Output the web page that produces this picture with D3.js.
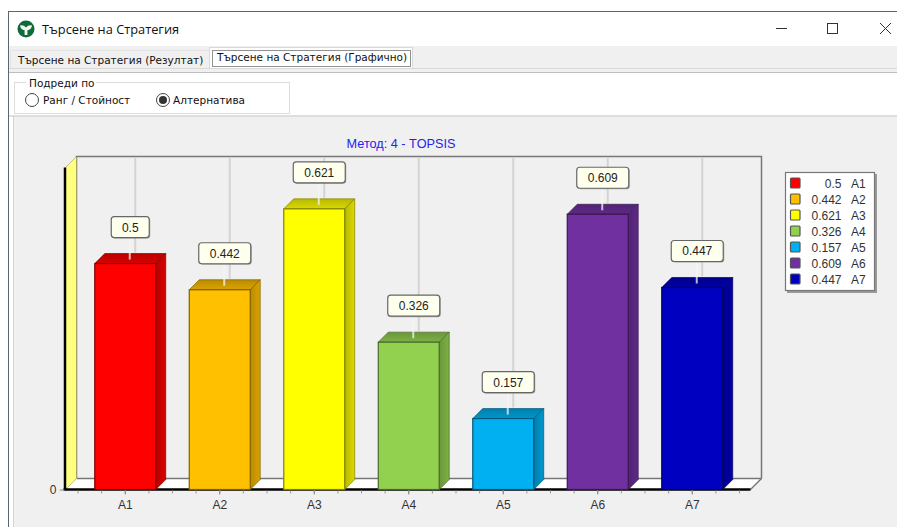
<!DOCTYPE html>
<html>
<head>
<meta charset="utf-8">
<script src="https://cdn.jsdelivr.net/npm/d3@7"></script>
<style>
html,body{margin:0;padding:0;background:#fff;overflow:hidden}
svg{display:block}
text{font-family:"Liberation Sans",Arial,sans-serif}
.ui{font-family:"DejaVu Sans",sans-serif;font-size:10.5px;fill:#111}
</style>
</head>
<body>
<svg id="chart" width="897" height="527"></svg>
<script>
// Strategy search results, method 4 - TOPSIS
const categories = ["A1","A2","A3","A4","A5","A6","A7"];
const values = [0.5,0.442,0.621,0.326,0.157,0.609,0.447];
const valueLabels = ["0.5","0.442","0.621","0.326","0.157","0.609","0.447"];
const fills = ["#ff0000","#ffc000","#ffff00","#92d050","#00b0f0","#7030a0","#0000c0"];
const yTicks = [0];
const chartTitle = "Метод: 4 - TOPSIS";
const windowTitle = "Търсене на Стратегия";
const tabLabels = ["Търсене на Стратегия (Резултат)","Търсене на Стратегия (Графично)"];
const groupTitle = "Подреди по";
const radioLabels = ["Ранг / Стойност","Алтернатива"];

const svg = d3.select("#chart");
const defs = svg.append("defs");

const rect = (g,x,y,w,h,fill,stroke) => g.append("rect").attr("x",x).attr("y",y)
  .attr("width",w).attr("height",h).attr("fill",fill).attr("stroke",stroke||"none");
const line = (g,x1,y1,x2,y2,stroke,width) => g.append("line").attr("x1",x1).attr("y1",y1)
  .attr("x2",x2).attr("y2",y2).attr("stroke",stroke).attr("stroke-width",width||1);

/* ---------- dialog window ---------- */
const win = svg.append("g");
rect(win,8,12,889,515,"#ffffff");
rect(win,14,117,883,410,"#f0f0f0");
line(win,13.5,116,13.5,527,"#d4d4d4");
line(win,8,11.5,897,11.5,"#5b6670");
line(win,8.5,12,8.5,527,"#5b6670");
// window icon
win.append("circle").attr("cx",26).attr("cy",29).attr("r",8.5).attr("fill","#0f6b3a");
win.append("path").attr("d","M20 25.5Q23.5 24.5 26 27.5Q28.5 24.5 32 25.5Q31.5 29.5 27.4 30.2L27.4 35L24.6 35L24.6 30.2Q20.5 29.5 20 25.5Z").attr("fill","#f4f7f2");
win.append("text").attr("x",42).attr("y",34).attr("font-size",12.8)
  .style("font-family","'Open Sans',sans-serif").attr("fill","#111").text(windowTitle);
// caption buttons
line(win,776,28.5,787,28.5,"#333");
rect(win,827.5,23.5,10,10,"none","#333");
line(win,880,23,891,34,"#333");
line(win,891,23,880,34,"#333");

// tab strip
rect(win,9,46,888,26,"#f0f0f0");
line(win,9,68.5,897,68.5,"#d9d9d9");
line(win,10,50.5,209,50.5,"#e4e4e4");
line(win,10.5,51,10.5,68,"#e4e4e4");
rect(win,209.5,47.5,203,21,"#ffffff","#d9d9d9");
rect(win,212.5,50.5,198,16,"none","#222").attr("stroke-dasharray","1 1");
win.append("text").attr("class","ui").attr("x",18).attr("y",64).text(tabLabels[0]);
win.append("text").attr("class","ui").attr("x",217).attr("y",61).text(tabLabels[1]);

// sort options panel
rect(win,9,73,888,42,"#ffffff");
line(win,9,72.5,897,72.5,"#bdbdbd");
line(win,9,116,897,116,"#bdbdbd");
rect(win,14.5,82.5,275,31,"#ffffff","#dcdcdc");
rect(win,26,78,70,10,"#ffffff");
win.append("text").attr("class","ui").attr("x",29).attr("y",87).text(groupTitle);
win.append("circle").attr("cx",32).attr("cy",100).attr("r",6.5).attr("fill","#fff").attr("stroke","#444");
win.append("text").attr("class","ui").attr("x",43).attr("y",104).text(radioLabels[0]);
win.append("circle").attr("cx",163).attr("cy",100).attr("r",6.5).attr("fill","#fff").attr("stroke","#444");
win.append("circle").attr("cx",163).attr("cy",100).attr("r",4).attr("fill","#333");
win.append("text").attr("class","ui").attr("x",173).attr("y",104).text(radioLabels[1]);

/* ---------- 3D bar chart ---------- */
const depth = 11;
const x0 = 65.5, x1 = 750.5, yBase = 489.5;
const x = d3.scaleBand().domain(categories).range([78, 739.5]).paddingInner(0.355).paddingOuter(0.1775);
const y = d3.scaleLinear().domain([0, 0.7125]).range([yBase, 167.5]);

const plot = svg.append("g");
const yTop = y.range()[1];

// back wall
plot.append("path").attr("d",`M${x0+depth} ${yBase-depth}V${yTop-depth}H${x1+depth}V${yBase-depth}`)
  .attr("fill","none").attr("stroke","#777").attr("stroke-width",1.5);
// floor
plot.append("path").attr("d",`M${x0} ${yBase}L${x0+depth} ${yBase-depth}H${x1+depth}L${x1} ${yBase}Z`)
  .attr("fill","#ffffff");
line(plot,x0+depth,yBase-depth,x1+depth,yBase-depth,"#777",1.5);
line(plot,x1,yBase,x1+depth,yBase-depth,"#777",1.5);
// left wall
plot.append("path").attr("d",`M${x0} ${yBase}V${yTop}L${x0+depth} ${yTop-depth}V${yBase-depth}Z`)
  .attr("fill","#ffff80").attr("stroke","#8a8a55").attr("stroke-width",.5);
line(plot,x0-.5,yTop,x0-.5,yBase,"#000",2.5);

// vertical guide lines on the back wall
plot.selectAll(".guide").data(categories).join("line").attr("class","guide")
  .attr("x1",d=>x(d)+x.bandwidth()/2+depth-1).attr("x2",d=>x(d)+x.bandwidth()/2+depth-1)
  .attr("y1",yTop-depth+1).attr("y2",(d,i)=>y(values[i])-depth)
  .attr("stroke","#d4d4d4").attr("stroke-width",2);

// base axis and ticks
line(plot,x0-2,yBase,x1,yBase,"#000",2.5);
const tickStep = x.step()/4;
const minorTicks = d3.range(0,29).map(i=>x(categories[0])+x.bandwidth()/2-2*tickStep+i*tickStep)
  .filter(v=>v<x1);
plot.selectAll(".minor").data(minorTicks).join("line").attr("class","minor")
  .attr("x1",d=>d).attr("x2",d=>d).attr("y1",yBase+1).attr("y2",yBase+4).attr("stroke","#9a9a9a");
const axisX = plot.append("g").attr("transform",`translate(0,${yBase})`)
  .call(d3.axisBottom(x).tickSize(5).tickPadding(6));
axisX.select(".domain").remove();
axisX.selectAll("line").attr("stroke","#888");
axisX.selectAll("text").attr("font-size",12).attr("fill","#333")
  .style("font-family","'Liberation Sans',Arial,sans-serif");
const axisY = plot.append("g").attr("transform",`translate(${x0-1},0)`)
  .call(d3.axisLeft(y).tickValues(yTicks).tickFormat(d3.format("d")).tickSize(5).tickPadding(3));
axisY.select(".domain").remove();
axisY.selectAll("line").attr("stroke","#888");
axisY.selectAll("text").attr("font-size",12).attr("fill","#333")
  .style("font-family","'Liberation Sans',Arial,sans-serif");

// gradients for the receding bar faces
fills.forEach((c,i)=>{
  const dark = d3.color(c).darker(0.9), mid = d3.color(c).darker(0.45);
  const side = defs.append("linearGradient").attr("id","side"+i).attr("x1",0).attr("x2",1).attr("y1",0).attr("y2",0);
  side.append("stop").attr("offset","0").attr("stop-color",dark);
  side.append("stop").attr("offset","1").attr("stop-color",mid);
  const top = defs.append("linearGradient").attr("id","top"+i).attr("x1",0).attr("x2",0).attr("y1",1).attr("y2",0);
  top.append("stop").attr("offset","0").attr("stop-color",mid);
  top.append("stop").attr("offset","1").attr("stop-color",dark);
});

// bars
const bars = plot.selectAll(".bar").data(categories).join("g").attr("class","bar");
const barDepth = 10;
bars.each(function(d,i){
  const g = d3.select(this), l = x(d), r = l+x.bandwidth(), t = y(values[i]);
  const edge = d3.color(fills[i]).darker(1.9);
  g.append("path").attr("d",`M${l} ${t}L${l+barDepth} ${t-barDepth}H${r+barDepth}L${r} ${t}Z`)
    .attr("fill",`url(#top${i})`).attr("stroke",edge).attr("stroke-width",.7);
  g.append("path").attr("d",`M${r} ${t}L${r+barDepth} ${t-barDepth}V${yBase-barDepth}L${r} ${yBase}Z`)
    .attr("fill",`url(#side${i})`).attr("stroke",edge).attr("stroke-width",.7);
  g.append("rect").attr("x",l).attr("y",t).attr("width",x.bandwidth()).attr("height",yBase-t)
    .attr("fill",fills[i]).attr("stroke",edge).attr("stroke-width",1.2);
});

// value callouts
const callouts = plot.selectAll(".callout").data(categories).join("g").attr("class","callout");
callouts.each(function(d,i){
  const g = d3.select(this), cx = x(d)+x.bandwidth()/2+5, t = y(values[i]);
  const w = valueLabels[i].length>3 ? 52 : 38, h = 21, by = t-47;
  line(g,cx-.5,by+h,cx-.5,t-4,"#f6f6f6",2).attr("opacity",.75);
  rect(g,cx-w/2+1,by+1,w,h,"#777").attr("rx",3).attr("opacity",.6);
  rect(g,cx-w/2,by,w,h,"#ffffee","#666").attr("rx",3).attr("stroke-width",1.2);
  g.append("text").attr("x",cx).attr("y",by+15).attr("text-anchor","middle")
    .attr("font-size",12).attr("fill","#222").text(valueLabels[i]);
});

svg.append("text").attr("x",401).attr("y",148).attr("text-anchor","middle")
  .attr("font-size",12.7).attr("fill","#2222ee").text(chartTitle);

/* ---------- legend ---------- */
const legend = svg.append("g");
rect(legend,787,174,90,119,"#9a9a9a");
rect(legend,785.5,172.5,89,118,"#ffffff","#777").attr("stroke-width",1.2);
const rows = legend.selectAll(".row").data(categories).join("g").attr("class","row")
  .attr("transform",(d,i)=>`translate(0,${183+i*16})`);
rows.append("rect").attr("x",790.5).attr("y",-5).attr("width",9.5).attr("height",10).attr("rx",1)
  .attr("fill",(d,i)=>fills[i]).attr("stroke","#555").attr("stroke-width",1.2);
rows.append("text").attr("x",841.5).attr("y",4.5).attr("text-anchor","end")
  .attr("font-size",12).attr("fill","#333").text((d,i)=>valueLabels[i]);
rows.append("text").attr("x",851).attr("y",4.5)
  .attr("font-size",12).attr("fill","#333").text(d=>d);
</script>
</body>
</html>
